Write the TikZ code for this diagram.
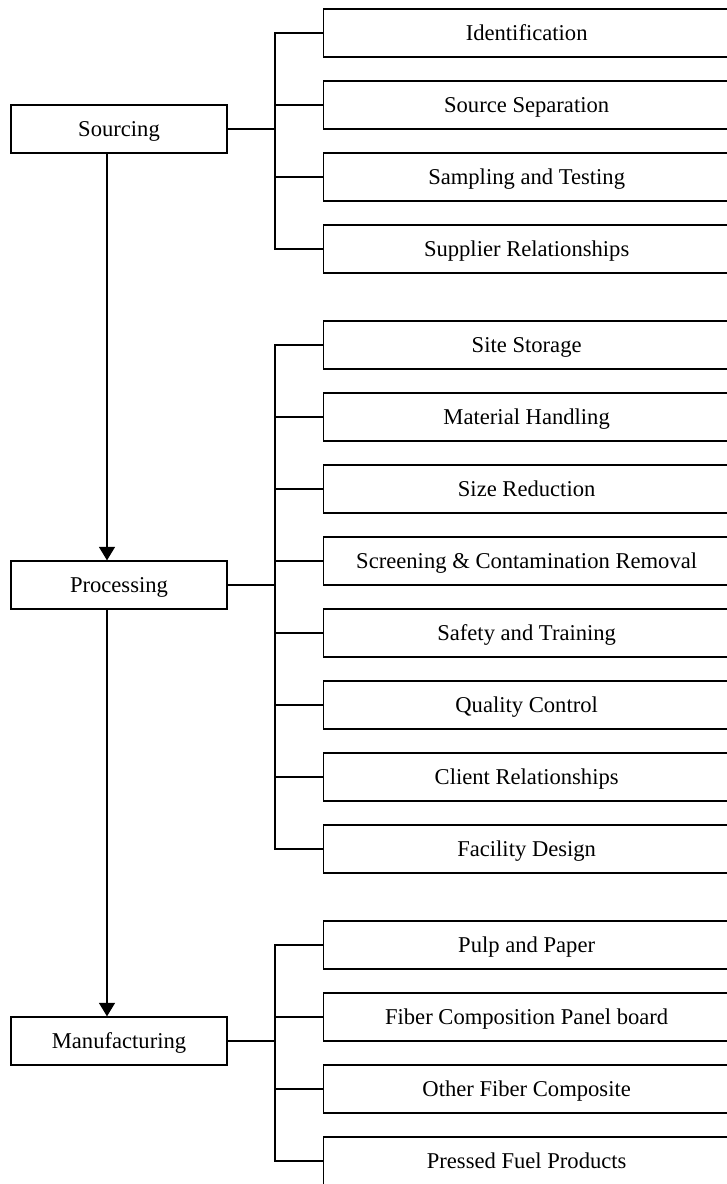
\documentclass[tikz,border=0pt]{standalone}
\usepackage{fontspec}
\setmainfont{Liberation Serif}
\usetikzlibrary{arrows.meta}
\begin{document}
\begin{tikzpicture}[x=1pt,y=-1pt,
  every node/.style={font=\fontsize{22.6}{27}\selectfont,text height=15.4pt,text depth=0pt},
  stage/.style={draw,line width=1.3pt,minimum width=216pt,minimum height=48pt,inner sep=0pt},
  item/.style={draw,line width=1.3pt,minimum width=406pt,minimum height=48pt,inner sep=0pt,anchor=west},
  link/.style={line width=1.3pt},
  flow/.style={line width=1.3pt,-{Triangle[length=13.5pt,width=16pt]}}]
\useasboundingbox (0,0) rectangle (726,1184);

% main stages
\node[stage] (src)  at (119,129)  {Sourcing};
\node[stage] (proc) at (119,585)  {Processing};
\node[stage] (man)  at (119,1041) {Manufacturing};

% sourcing activities
\node[item] (s1) at (323,33)  {Identification};
\node[item] (s2) at (323,105) {Source Separation};
\node[item] (s3) at (323,177) {Sampling and Testing};
\node[item] (s4) at (323,249) {Supplier Relationships};

% processing activities
\node[item] (p1) at (323,345) {Site Storage};
\node[item] (p2) at (323,417) {Material Handling};
\node[item] (p3) at (323,489) {Size Reduction};
\node[item] (p4) at (323,561) {Screening \& Contamination Removal};
\node[item] (p5) at (323,633) {Safety and Training};
\node[item] (p6) at (323,705) {Quality Control};
\node[item] (p7) at (323,777) {Client Relationships};
\node[item] (p8) at (323,849) {Facility Design};

% manufacturing products
\node[item] (m1) at (323,945)  {Pulp and Paper};
\node[item] (m2) at (323,1017) {Fiber Composition Panel board};
\node[item] (m3) at (323,1089) {Other Fiber Composite};
\node[item] (m4) at (323,1161) {Pressed Fuel Products};

% bus lines and arrow column
\coordinate (bus) at (275,0);
\coordinate (ax)  at (107,0);

% sourcing branches
\draw[link] (src.east) -- (src.east -| bus);
\draw[link] (s1.west) -- (s1.west -| bus) -- (s4.west -| bus) -- (s4.west);
\foreach \n in {s2,s3} \draw[link] (\n.west) -- (\n.west -| bus);

% processing branches
\draw[link] (proc.east) -- (proc.east -| bus);
\draw[link] (p1.west) -- (p1.west -| bus) -- (p8.west -| bus) -- (p8.west);
\foreach \n in {p2,p3,p4,p5,p6,p7} \draw[link] (\n.west) -- (\n.west -| bus);

% manufacturing branches
\draw[link] (man.east) -- (man.east -| bus);
\draw[link] (m1.west) -- (m1.west -| bus) -- (m4.west -| bus) -- (m4.west);
\foreach \n in {m2,m3} \draw[link] (\n.west) -- (\n.west -| bus);

% flow between stages
\draw[flow] (src.south -| ax) -- (proc.north -| ax);
\draw[flow] (proc.south -| ax) -- (man.north -| ax);
\end{tikzpicture}
\end{document}
